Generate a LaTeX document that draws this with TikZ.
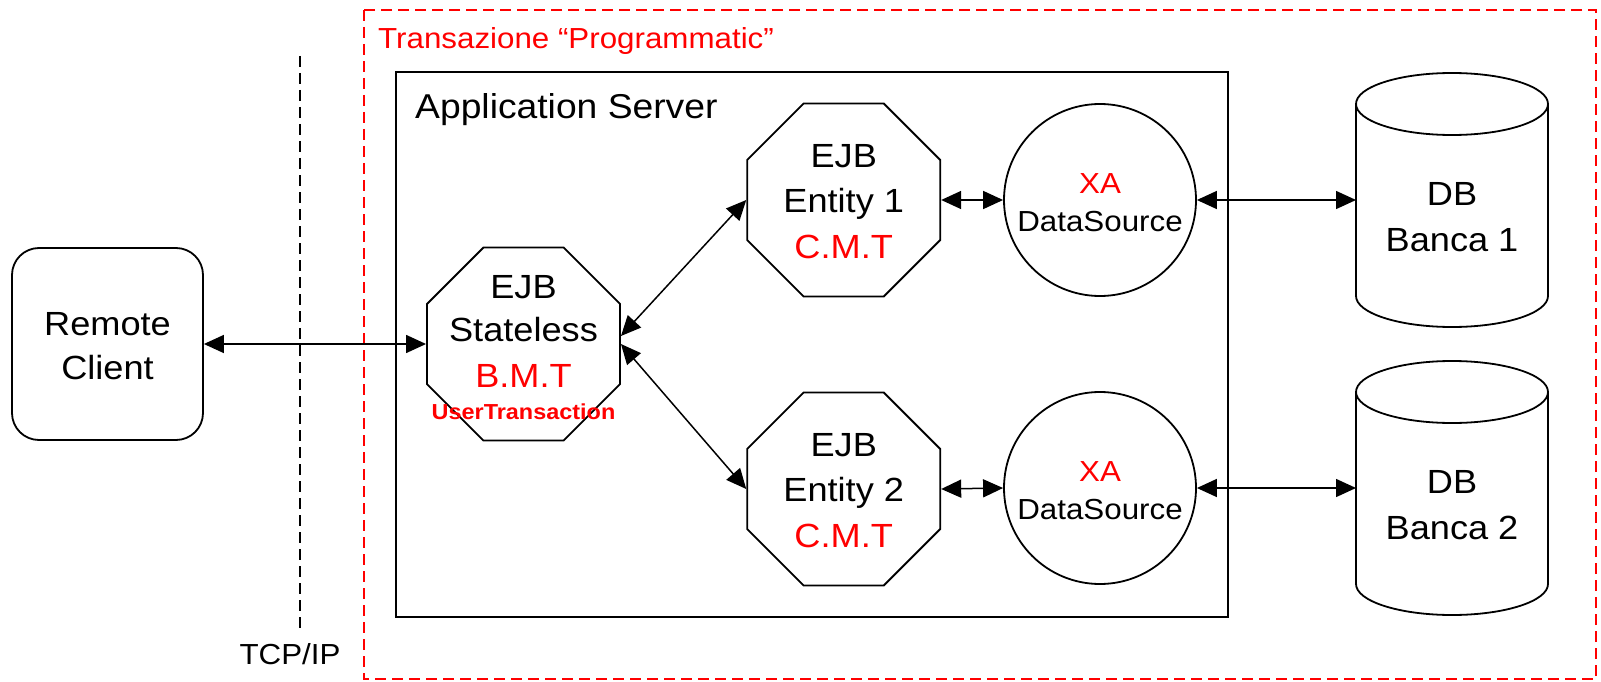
\documentclass[tikz,border=0pt]{standalone}
\usepackage{fontspec}
\setmainfont{Liberation Sans}[FakeStretch=1.08]
\usetikzlibrary{arrows.meta,shapes.geometric}
\definecolor{txred}{RGB}{255,0,0}
\begin{document}
\begin{tikzpicture}[x=1pt,y=-1pt,
  box/.style={draw, line width=1.8pt},
  octa/.style={regular polygon, regular polygon sides=8, minimum size=209pt,
    inner sep=0pt, draw, line width=1.8pt},
  ds/.style={circle, minimum size=192pt, inner sep=0pt, draw, line width=1.8pt},
  dbbody/.style={minimum width=192pt, minimum height=254pt, inner sep=0pt, outer sep=0pt},
  lbl/.style={anchor=base, inner sep=0pt, font=\fontsize{33.5pt}{40pt}\selectfont},
  small/.style={anchor=base, inner sep=0pt, font=\fontsize{29pt}{35pt}\selectfont},
  tiny/.style={anchor=base, inner sep=0pt, font=\bfseries\fontsize{21.7pt}{26pt}\selectfont},
  link/.style={<->, >={Triangle[length=20pt,width=18pt]}, line width=1.5pt},
  dsh/.style={dash pattern=on 11pt off 6pt, line width=1.5pt}
]
\useasboundingbox (0,0) rectangle (1601,682);

% transaction scope
\draw[dsh, txred] (364,10) rectangle (1596,679);
\node[small, txred, anchor=base west] (title) at (378,48.3) {Transazione “Programmatic”};

% application server
\draw[box] (396,72) rectangle (1228,617);
\node[lbl, anchor=base west, font=\fontsize{34.5pt}{40pt}\selectfont] (appsrv) at (415,118.3) {Application Server};

% network boundary
\coordinate (tcptop) at (300,56);
\coordinate (tcpbot) at (300,629);
\draw[dsh] (tcptop) -- (tcpbot);
\node[small] (tcp) at (290,664) {TCP/IP};

% remote client
\node[box, rounded corners=27pt, minimum width=191pt, minimum height=192pt, inner sep=0pt] (client) at (107.5,344) {};
\node[lbl] (clientA) at (107.5,335.7) {Remote};
\node[lbl] (clientB) at (107.5,379.3) {Client};

% stateless session bean
\node[octa] (stateless) at (523.5,344) {};
\node[lbl] (slA) at (523.5,298.3) {EJB};
\node[lbl] (slB) at (523.5,341.7) {Stateless};
\node[lbl, txred] (slC) at (523.5,387.7) {B.M.T};
\node[tiny, txred] (slD) at (523.5,419.3) {UserTransaction};

% entity beans
\node[octa] (ent1) at (843.7,200) {};
\node[lbl] (e1A) at (843.7,167.7) {EJB};
\node[lbl] (e1B) at (843.7,212.7) {Entity 1};
\node[lbl, txred] (e1C) at (843.7,258.3) {C.M.T};

\node[octa] (ent2) at (843.7,489) {};
\node[lbl] (e2A) at (843.7,456.7) {EJB};
\node[lbl] (e2B) at (843.7,501.7) {Entity 2};
\node[lbl, txred] (e2C) at (843.7,547.3) {C.M.T};

% XA data sources
\node[ds] (ds1) at (1100,200) {};
\node[small, txred] (ds1A) at (1100,193.3) {XA};
\node[small] (ds1B) at (1100,231.7) {DataSource};

\node[ds] (ds2) at (1100,488) {};
\node[small, txred] (ds2A) at (1100,481.3) {XA};
\node[small] (ds2B) at (1100,519.7) {DataSource};

% databases
\node[dbbody] (db1) at (1452,200) {};
\draw[box] ([yshift=-31pt]db1.north) ellipse [x radius=96pt, y radius=31pt];
\draw[box] ([yshift=-31pt]db1.north west) -- ([yshift=31pt]db1.south west)
  arc[start angle=180, end angle=360, x radius=96pt, y radius=31pt]
  -- ([yshift=-31pt]db1.north east);
\node[lbl] (db1A) at (1452,205.7) {DB};
\node[lbl] (db1B) at (1452,251.7) {Banca 1};

\node[dbbody] (db2) at (1452,488) {};
\draw[box] ([yshift=-31pt]db2.north) ellipse [x radius=96pt, y radius=31pt];
\draw[box] ([yshift=-31pt]db2.north west) -- ([yshift=31pt]db2.south west)
  arc[start angle=180, end angle=360, x radius=96pt, y radius=31pt]
  -- ([yshift=-31pt]db2.north east);
\node[lbl] (db2A) at (1452,493.7) {DB};
\node[lbl] (db2B) at (1452,539.7) {Banca 2};

% connectors
\draw[link] (client.east) -- (stateless.west);
\draw[link] ([yshift=8pt]stateless.east) -- (ent1.west);
\draw[link] (stateless.east) -- (ent2.west);
\draw[link] (ent1.east) -- (ds1.west);
\draw[link] (ent2.east) -- (ds2.west);
\draw[link] (ds1.east) -- (db1.west);
\draw[link] (ds2.east) -- (db2.west);
\end{tikzpicture}
\end{document}
